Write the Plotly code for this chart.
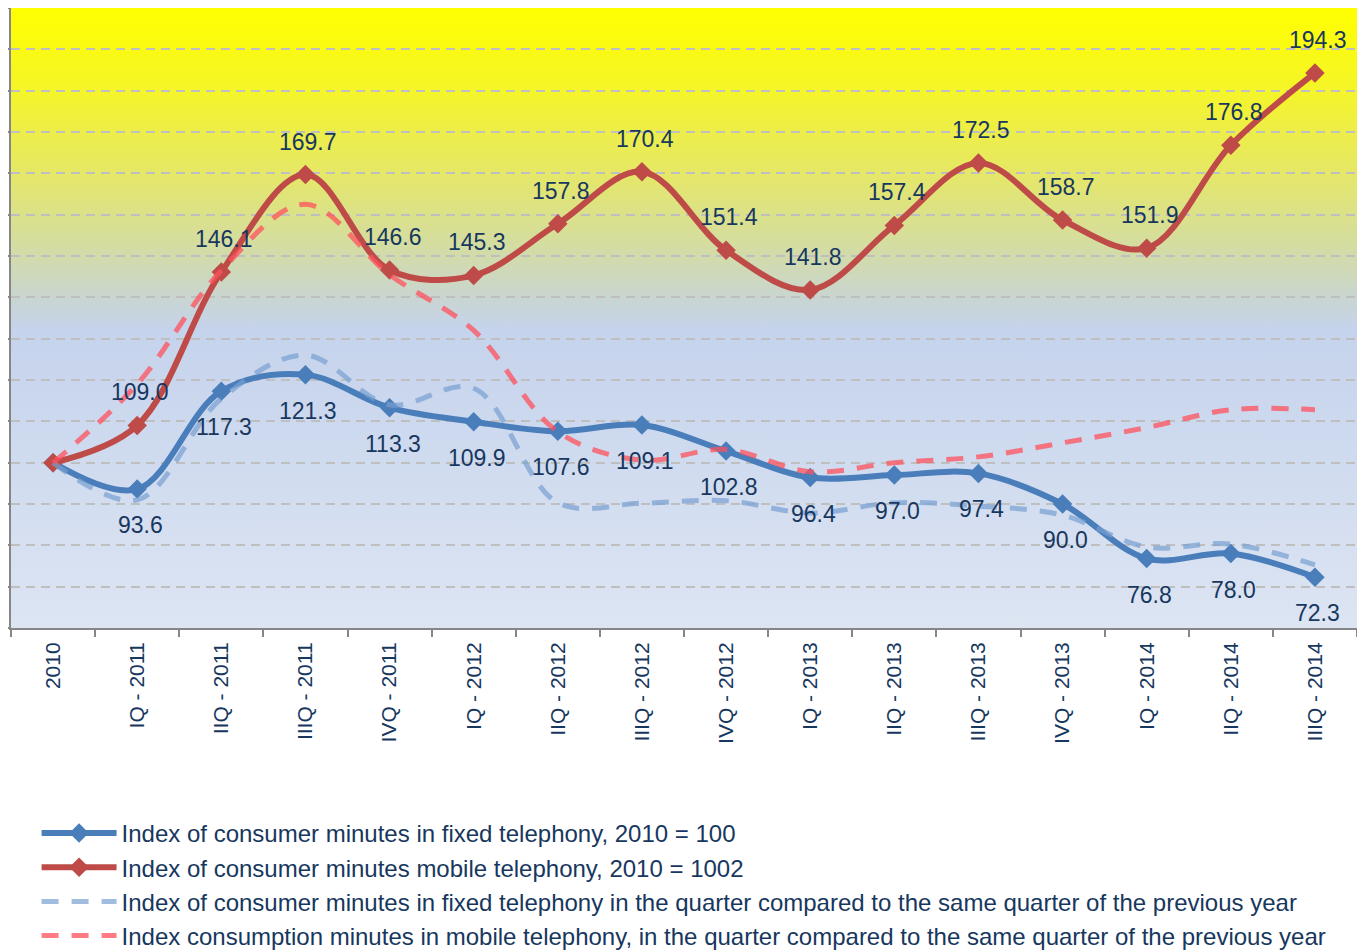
import base64
import plotly.graph_objects as go

categories = ["2010", "IQ - 2011", "IIQ - 2011", "IIIQ - 2011", "IVQ - 2011",
              "IQ - 2012", "IIQ - 2012", "IIIQ - 2012", "IVQ - 2012",
              "IQ - 2013", "IIQ - 2013", "IIIQ - 2013", "IVQ - 2013",
              "IQ - 2014", "IIQ - 2014", "IIIQ - 2014"]

fixed_index = [100.0, 93.6, 117.3, 121.3, 113.3, 109.9, 107.6, 109.1, 102.8,
               96.4, 97.0, 97.4, 90.0, 76.8, 78.0, 72.3]
mobile_index = [100.0, 109.0, 146.1, 169.7, 146.6, 145.3, 157.8, 170.4, 151.4,
                141.8, 157.4, 172.5, 158.7, 151.9, 176.8, 194.3]
fixed_yoy = [100.0, 91.0, 115.5, 126.0, 114.0, 118.0, 90.3, 90.2, 90.8,
             87.8, 90.3, 89.5, 87.3, 79.6, 80.3, 75.3]
mobile_yoy = [100.0, 119.0, 146.5, 162.5, 145.5, 132.0, 107.5, 100.6, 103.2,
              97.8, 100.0, 101.4, 104.8, 108.5, 112.8, 112.8]

names = [
    "Index of consumer minutes in fixed telephony, 2010 = 100",
    "Index of consumer minutes mobile telephony, 2010 = 1002",
    "Index of consumer minutes in fixed telephony in the quarter compared to the same quarter of the previous year",
    "Index consumption minutes in mobile telephony, in the quarter compared to the same quarter of the previous year",
]

TEXT = "#17375E"
BLUE = "#4A7EBB"
RED = "#BE4B48"
LBLUE = "rgba(120,160,210,0.7)"
LRED = "rgba(255,80,92,0.75)"
FONT = "Liberation Sans, Arial"

# gradient background (SVG)
svg = (
    '<svg xmlns="http://www.w3.org/2000/svg" width="1346" height="620" '
    'viewBox="0 0 1346 620" preserveAspectRatio="none">'
    '<defs><linearGradient id="g" x1="0" y1="0" x2="0" y2="1">'
    '<stop offset="0" stop-color="rgb(255,255,0)"/>'
    '<stop offset="0.13" stop-color="rgb(245,245,40)"/>'
    '<stop offset="0.26" stop-color="rgb(230,232,100)"/>'
    '<stop offset="0.39" stop-color="rgb(211,220,165)"/>'
    '<stop offset="0.47" stop-color="rgb(201,213,210)"/>'
    '<stop offset="0.52" stop-color="rgb(197,211,236)"/>'
    '<stop offset="1" stop-color="rgb(221,229,243)"/>'
    '</linearGradient></defs>'
    '<rect x="0" y="0" width="1346" height="620" fill="url(#g)"/></svg>'
)
svg_uri = "data:image/svg+xml;base64," + base64.b64encode(svg.encode()).decode()

fig = go.Figure()

fig.add_trace(go.Scatter(
    x=categories, y=fixed_index, name=names[0], mode="lines+markers",
    line=dict(color=BLUE, width=6, shape="spline", smoothing=1),
    marker=dict(symbol="diamond", size=15, color=BLUE),
    legendgroup="a"))
fig.add_trace(go.Scatter(
    x=categories, y=mobile_index, name=names[1], mode="lines+markers",
    line=dict(color=RED, width=6, shape="spline", smoothing=1),
    marker=dict(symbol="diamond", size=15, color=RED),
    legendgroup="b"))
fig.add_trace(go.Scatter(
    x=categories, y=fixed_yoy, name=names[2], mode="lines",
    line=dict(color=LBLUE, width=5, shape="spline", smoothing=1, dash="17px,13px"),
    legendgroup="c"))
fig.add_trace(go.Scatter(
    x=categories, y=mobile_yoy, name=names[3], mode="lines",
    line=dict(color=LRED, width=5, shape="spline", smoothing=1, dash="17px,13px"),
    legendgroup="d"))

annotations = []
for c, v in zip(categories, fixed_index):
    annotations.append(dict(x=c, y=v, text=f"{v:.1f}", showarrow=False,
                            xshift=3, yshift=-36,
                            font=dict(size=23, color=TEXT, family=FONT)))
for c, v in zip(categories, mobile_index):
    annotations.append(dict(x=c, y=v, text=f"{v:.1f}", showarrow=False,
                            xshift=3, yshift=33,
                            font=dict(size=23, color=TEXT, family=FONT)))

fig.update_layout(
    width=1357, height=943, autosize=False,
    margin=dict(l=3, r=8, t=0, b=323, autoexpand=False),
    paper_bgcolor="white",
    plot_bgcolor="rgba(0,0,0,0)",
    font=dict(family=FONT, color=TEXT),
    images=[dict(source=svg_uri, xref="paper", yref="paper", x=0, y=1,
                 sizex=1, sizey=1, xanchor="left", yanchor="top",
                 sizing="stretch", layer="below")],
    annotations=annotations,
    showlegend=True,
    legend=dict(x=0.019, y=-0.295, xanchor="left", yanchor="top",
                orientation="v", bgcolor="rgba(0,0,0,0)",
                font=dict(size=24, color=TEXT, family=FONT),
                itemwidth=75, tracegroupgap=0),
    xaxis=dict(type="category", range=[-0.5, 15.5], tickson="boundaries",
               ticks="outside", ticklen=7, tickwidth=2, tickcolor="#868686",
               showline=True, linecolor="#868686", linewidth=2,
               showgrid=False, tickangle=-90, automargin=False,
               ticklabelstandoff=4,
               tickfont=dict(size=21, color=TEXT, family=FONT)),
    yaxis=dict(range=[60, 210], tickvals=list(range(60, 211, 10)),
               showticklabels=False, ticks="outside", ticklen=7, tickwidth=2,
               tickcolor="#868686", showline=True, linecolor="#868686", linewidth=2,
               showgrid=True, gridcolor="#BFBFBF", gridwidth=1.5, griddash="9px,6px",
               zeroline=False, automargin=False),
)

fig.write_html("out.html")
